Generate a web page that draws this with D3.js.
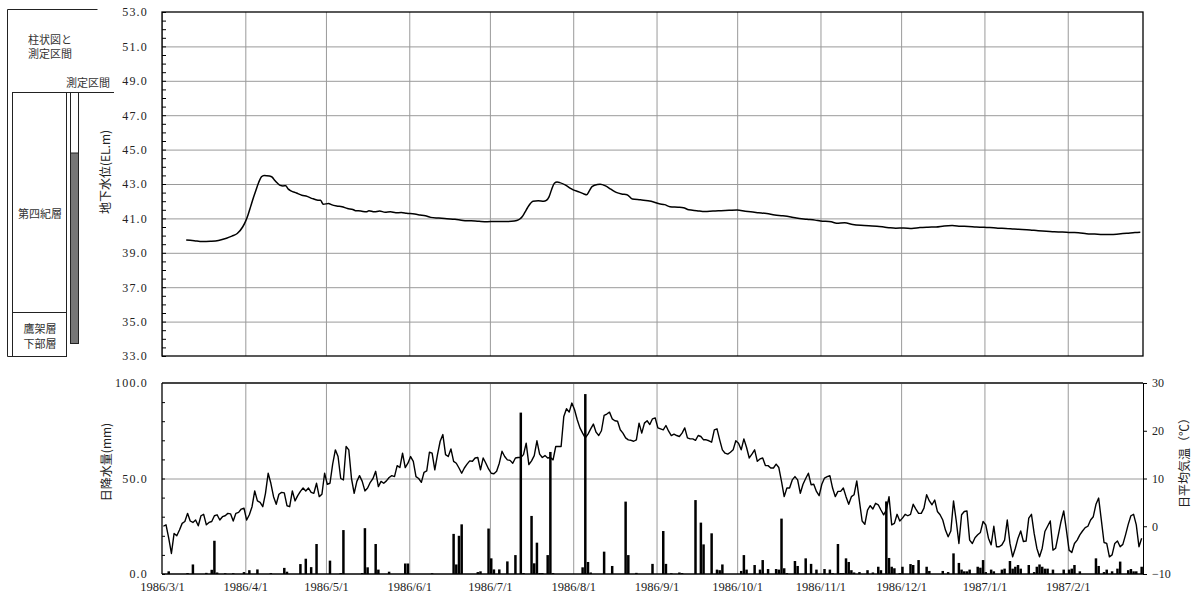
<!DOCTYPE html>
<html><head><meta charset="utf-8">
<script src="https://cdn.jsdelivr.net/npm/d3@7"></script>
<style>body{margin:0;background:#fff}svg{display:block}</style>
</head><body><svg id="c" width="1195" height="598"></svg>
<script>
// ---------- DATA ----------
const startDate = "1986-03-01";
const endDate = "1987-03-01";
const monthTicks = ["1986-03-01","1986-04-01","1986-05-01","1986-06-01","1986-07-01","1986-08-01","1986-09-01","1986-10-01","1986-11-01","1986-12-01","1987-01-01","1987-02-01"];
const levelTicks = [33,35,37,39,41,43,45,47,49,51,53];
const rainTicks = [0,50,100];
const tempTicks = [-10,0,10,20,30];

// groundwater level (EL.m): day offset from 1986/3/1 and level
const gwDay = [9,12,15,18,21,24,26,28,30,31,32,33,34,35,36,37,38,40,41,42,43,44,45,46,47,48,50,52,54,56,58,59,60,62,63,65,67,69,71,72,74,76,77,79,81,83,85,87,89,91,94,96,98,100,103,106,109,112,115,118,121,124,127,130,132,133,134,135,136,137,138,140,142,143,144,145,146,147,148,150,152,153,155,157,158,159,160,162,163,165,167,169,171,173,175,178,182,185,187,189,192,194,196,199,202,205,208,211,214,217,219,222,225,228,231,234,236,240,243,245,249,251,254,257,260,263,266,269,271,273,276,279,282,285,288,291,294,297,300,303,306,308,311,314,317,320,323,326,329,332,335,338,341,344,347,350,353,356,359,362,364];
const gwLevel = [39.75,39.7,39.65,39.67,39.72,39.85,39.97,40.12,40.5,40.8,41.2,41.7,42.2,42.66,43.1,43.42,43.5,43.47,43.4,43.2,43.04,42.92,42.89,42.9,42.7,42.6,42.48,42.35,42.28,42.15,42.06,42.05,41.82,41.87,41.8,41.72,41.68,41.57,41.52,41.45,41.43,41.38,41.45,41.38,41.43,41.36,41.38,41.33,41.34,41.3,41.25,41.2,41.15,41.06,41.02,40.98,40.95,40.88,40.86,40.83,40.81,40.82,40.82,40.83,40.88,40.95,41.1,41.35,41.62,41.85,42.0,42.02,42.0,42.05,42.25,42.7,43.04,43.11,43.08,42.95,42.75,42.66,42.55,42.42,42.38,42.6,42.85,42.97,42.98,42.89,42.7,42.51,42.42,42.38,42.13,42.08,42.0,41.85,41.8,41.68,41.65,41.62,41.5,41.45,41.4,41.43,41.45,41.47,41.49,41.42,41.38,41.33,41.28,41.2,41.15,41.08,41.02,40.95,40.9,40.85,40.8,40.72,40.74,40.65,40.6,40.57,40.55,40.49,40.45,40.43,40.44,40.42,40.47,40.49,40.5,40.56,40.58,40.55,40.53,40.5,40.48,40.47,40.43,40.42,40.38,40.36,40.33,40.28,40.26,40.22,40.21,40.18,40.17,40.11,40.09,40.06,40.06,40.09,40.13,40.18,40.2];

// daily mean air temperature (°C), one value per day from 1986/3/1
const tempC = [
0,0.3,-2.5,-5.7,-1.5,-2,-0.8,0.6,1,2.7,1.1,0.8,1.3,0.1,2.2,2.5,0.3,0.8,1,2.2,
2.4,1.3,2,2.2,2.7,2.6,1.1,2.7,2.9,3.6,3.8,1.3,2.4,4.1,7.4,5.3,5,4.1,6.9,11.1,
9,6.2,4.6,6.7,7.1,7,4.3,4.1,7.4,5.3,6.4,7.3,8,7.4,8,7.1,6.9,9,6.2,6.7,11.1,8.8,
9,13,16,14.6,10,9.7,16.7,16,10,6.9,9.4,10.6,9.4,7.4,8,9.2,10,11.5,8.3,9.4,
9,9.5,10.2,10.6,10.4,12.7,12.3,15.3,12.3,13.2,14.6,13.6,10.4,10,9.2,11.3,11.6,15.5,15.3,11.8,
15,17.8,19.2,15,14.6,16.2,13.6,13.2,12.2,11.1,12.2,13,13.7,13.6,14.3,14.4,11.8,14.3,13.2,12,
11.1,11,11.5,13.2,15.7,14.6,13.9,13.8,13.2,14.3,14.4,14.4,15,17.4,12.9,13.7,14.8,17.9,15.1,14.4,
14.8,14.3,14.4,13.9,16.7,16.7,16.7,23,24.6,23.9,25.8,24.4,22.3,20.6,19.5,18.5,19.3,20.4,21.4,19.7,
19,20,23.2,23.5,23.9,22.5,22.1,22,20.2,19.5,18.5,18.1,18,17.8,18.1,21.6,19.5,21.6,22.1,21.3,22.5,22.7,
20.6,20.4,20.2,21.1,19.9,19,19.3,19,18.8,19.5,20.6,18.5,18.3,18.3,18,19,18.8,18.1,18.1,17.9,
17.6,20.2,20.4,18.1,16,15.3,15.1,15.5,16,17.9,17.4,16,18.3,16.5,14.3,15.1,16,13.6,14.1,14.3,
12.7,12.7,12.2,12.2,13,12.3,9.4,6.2,8,8,9.7,10.4,9.7,6.9,8.8,10,11.1,8.7,8.8,7.3,6.4,
8.8,10.1,10.4,10.6,8,6.2,7.3,7.3,8,6.2,4.6,6.2,6.6,9.5,5.2,1.1,0.4,3.4,4.3,3.6,
4.8,4.5,3.4,2.4,3.4,6.2,0.3,0.6,2.5,1.1,1.7,2.5,2.2,2.5,4.6,3.6,2.7,2.7,3.8,6.6,
5.3,4.5,5.5,3.1,2.4,1.3,-0.8,-2.2,-1,5.3,1.2,-3.6,2.4,3.1,3.2,-2.9,-3.6,-2.4,-1.8,-1.3,1,
0.3,-2.5,-3.9,0,-4.3,-4.3,-3.9,-2.9,1.3,-3.6,-6.4,-4.6,-2.5,-1,-3.2,-3.1,1.7,2.5,-1.5,-4.6,
-6.4,-4.6,-1.1,0,1.1,-5,-4.6,-1.8,1,3.2,-0.8,-5,-5.5,-3.6,-2.9,-1.8,-1,-0.3,0,1.3,
2,4.6,5.9,1.3,-3.4,-3.6,-6.4,-6,-3.6,-3.1,-4.3,-3.8,-1.8,0.4,2.2,2.5,0.3,-4.3,-2.5];

// daily precipitation (mm): day offset and amount
const rainDay = [2,9,11,16,18,19,20,23,26,30,32,35,40,45,46,51,53,55,57,62,66,67,74,75,76,79,80,84,90,91,100,108,109,110,111,117,118,121,122,123,125,128,131,133,134,137,138,139,140,141,143,144,145,156,157,158,159,164,167,172,173,176,182,186,187,189,192,193,198,200,201,204,206,207,208,215,216,217,220,222,223,225,228,229,230,231,232,235,236,239,241,243,246,248,249,251,252,253,254,255,256,257,259,262,264,266,267,269,270,271,272,274,275,278,279,281,284,285,290,292,294,296,297,298,299,300,303,304,305,306,308,309,312,313,315,316,317,318,319,322,324,325,326,327,328,329,331,335,337,338,339,341,347,348,350,351,353,355,356,359,360,361,362,364];
const rainMM = [1.4,0.5,5,0.6,2.2,17.4,0.8,0.4,0.4,1,2,2.4,0.5,3.2,1.2,5.2,8,3.6,15.7,7,0.5,23,0.5,24,3.5,15.7,2.3,1.2,5.5,5.5,0.4,21,5,20,26,1,1.4,23.8,8.2,2.4,2.4,6.6,9.9,84.5,0.5,30.4,5.6,16.4,0.5,0.5,9.9,63.9,0.5,3.5,94.2,6.3,0.8,11.7,4.2,37.9,9.9,0.6,5.3,22.5,5.3,0.4,0.8,0.5,38.7,26.9,15.5,21.3,2.3,2,5,1.6,9.9,2.3,4.7,2.3,7.3,2.6,2.6,2.3,29,3,0.5,6.8,4.2,8.2,5.3,2.3,2.6,2.3,0.5,15.7,0.5,0.5,8.2,6.3,2,0.8,1,2,0.8,3.8,2,38,8.4,3.8,3,0.5,3.8,5.2,4.7,7.3,3.8,1.6,1.6,1,10.8,5.8,2.3,1.4,1.4,2.3,3.8,3.3,7.3,1,2.3,1.4,2.3,2.8,6.8,2.8,3.8,4.7,2.8,4.7,1,3.8,5,3.8,2.8,2.8,2.3,2.3,2.3,2.8,4.7,1.4,8.2,4.2,1,2.3,1.4,2.8,6.5,2,2.6,1.4,1.4,3.8];

// ---------- DRAW ----------
const svg = d3.select("#c");
const parse = d3.timeParse("%Y-%m-%d");
const t0 = parse(startDate), t1 = parse(endDate);
const dayDate = d => d3.timeDay.offset(t0, d);
const months = monthTicks.map(parse);
const L = 162, R = 1143;
const TT = 12, TB = 356, BT = 383, BB = 574;
const serif = "'Liberation Serif','DejaVu Serif',serif";
const jp = "'Noto Sans CJK JP','Noto Sans',sans-serif";
const gridCol = "#9a9a9a";

const x = d3.scaleTime().domain([t0, t1]).range([L, R]);
const yLev = d3.scaleLinear().domain([33, 53]).range([TB, TT]);
const yRain = d3.scaleLinear().domain([0, 100]).range([BB, BT]);
const yTemp = d3.scaleLinear().domain([-10, 30]).range([BB, BT]);

function styleGrid(g){ g.select(".domain").remove(); g.selectAll("line").attr("stroke", gridCol).attr("stroke-width", 1); g.selectAll("text").remove(); }

// ---- top chart ----
svg.append("g").attr("transform", `translate(0,${TB})`)
  .call(d3.axisBottom(x).tickValues(months).tickSize(-(TB-TT)).tickFormat("")).call(styleGrid);
svg.append("g").attr("transform", `translate(${L},0)`)
  .call(d3.axisLeft(yLev).tickValues(levelTicks.slice(1,-1)).tickSize(-(R-L)).tickFormat("")).call(styleGrid);
// minor ticks
svg.append("g").attr("transform", `translate(${L},0)`)
  .call(d3.axisLeft(yLev).tickValues(d3.range(33, 53.01, 0.5)).tickSize(-4).tickFormat(""))
  .call(g => { g.select(".domain").remove(); g.selectAll("line").attr("stroke","#000"); });
// labels
svg.append("g").attr("transform", `translate(${L},0)`)
  .call(d3.axisLeft(yLev).tickValues(levelTicks).tickSize(0).tickPadding(14).tickFormat(d3.format(".1f")))
  .call(g => { g.select(".domain").remove(); g.selectAll("text").attr("font-family", serif).attr("font-size", 12).attr("letter-spacing", "1.2px").attr("fill", "#222"); });
svg.append("rect").attr("x", L).attr("y", TT).attr("width", R-L).attr("height", TB-TT)
  .attr("fill", "none").attr("stroke", "#000").attr("stroke-width", 1.3);

const gwLine = d3.line().x((d,i) => x(dayDate(gwDay[i]))).y(d => yLev(d)).curve(d3.curveMonotoneX);
svg.append("path").datum(gwLevel).attr("d", gwLine).attr("fill", "none").attr("stroke", "#000").attr("stroke-width", 1.5);

svg.append("text").attr("transform", `translate(110,172) rotate(-90)`).attr("text-anchor", "middle")
  .attr("font-family", jp).attr("font-size", 12).attr("fill", "#222").text("地下水位(EL.m)");

// ---- bottom chart ----
svg.append("g").attr("transform", `translate(0,${BB})`)
  .call(d3.axisBottom(x).tickValues(months.slice(1)).tickSize(-(BB-BT)).tickFormat("")).call(styleGrid);
svg.append("g").attr("transform", `translate(${L},0)`)
  .call(d3.axisLeft(yRain).tickValues([50]).tickSize(-(R-L)).tickFormat("")).call(styleGrid);

// rain bars
const bw = x(dayDate(1)) - x(dayDate(0));
svg.append("g").selectAll("rect").data(rainMM).join("rect")
  .attr("x", (d,i) => x(dayDate(rainDay[i])) + 0.1)
  .attr("width", bw - 0.2)
  .attr("y", d => yRain(d)).attr("height", d => yRain(0) - yRain(d))
  .attr("fill", "#000");

// temperature line
const tLine = d3.line().x((d,i) => x(dayDate(i)) + bw/2).y(d => yTemp(d));
svg.append("path").datum(tempC).attr("d", tLine).attr("fill", "none").attr("stroke", "#000").attr("stroke-width", 1.4).attr("stroke-linejoin", "round");

// left axis
svg.append("g").attr("transform", `translate(${L},0)`)
  .call(d3.axisLeft(yRain).tickValues(d3.range(0, 100.1, 10)).tickSize(-3).tickFormat(""))
  .call(g => { g.select(".domain").remove(); g.selectAll("line").attr("stroke","#000"); });
svg.append("g").attr("transform", `translate(${L},0)`)
  .call(d3.axisLeft(yRain).tickValues(rainTicks).tickSize(0).tickPadding(14).tickFormat(d3.format(".1f")))
  .call(g => { g.select(".domain").remove(); g.selectAll("text").attr("font-family", serif).attr("font-size", 12).attr("letter-spacing", "1.2px").attr("fill", "#222"); });
// right axis
svg.append("g").attr("transform", `translate(${R},0)`)
  .call(d3.axisRight(yTemp).tickValues(tempTicks).tickSize(4).tickPadding(5))
  .call(g => { g.select(".domain").attr("stroke","#000"); g.selectAll("line").attr("stroke","#000");
    g.selectAll("text").attr("font-family", serif).attr("font-size", 12).attr("fill", "#222"); });
// bottom axis
svg.append("g").attr("transform", `translate(0,${BB})`)
  .call(d3.axisBottom(x).tickValues(months).tickSize(0).tickPadding(8).tickFormat(d3.timeFormat("%Y/%-m/%-d")))
  .call(g => { g.select(".domain").remove();
    g.selectAll("text").attr("font-family", serif).attr("font-size", 12.5).attr("fill", "#222"); });

svg.append("line").attr("x1", L).attr("x2", R).attr("y1", BT).attr("y2", BT).attr("stroke", "#444").attr("stroke-width", 2);
svg.append("line").attr("x1", L).attr("x2", L).attr("y1", BT).attr("y2", BB).attr("stroke", "#000").attr("stroke-width", 1.3);
svg.append("line").attr("x1", L).attr("x2", R).attr("y1", BB).attr("y2", BB).attr("stroke", "#000").attr("stroke-width", 1.3);

svg.append("text").attr("transform", `translate(111,462) rotate(-90)`).attr("text-anchor", "middle")
  .attr("font-family", jp).attr("font-size", 12).attr("fill", "#222").text("日降水量(mm)");
svg.append("text").attr("transform", `translate(1189,460) rotate(-90)`).attr("text-anchor", "middle")
  .attr("font-family", jp).attr("font-size", 12).attr("fill", "#222").text("日平均気温（℃）");

// ---- left boring log panel ----
const p = svg.append("g").attr("stroke", "#222").attr("stroke-width", 1).attr("fill", "none");
p.append("path").attr("d", "M97.5,9.5 H7.5 V356.5 H66.5");
p.append("line").attr("x1", 12.5).attr("x2", 114).attr("y1", 92.5).attr("y2", 92.5);
p.append("rect").attr("x", 12.5).attr("y", 92.5).attr("width", 54).attr("height", 264);
p.append("line").attr("x1", 12.5).attr("x2", 66.5).attr("y1", 312.5).attr("y2", 312.5);
p.append("rect").attr("x", 70.5).attr("y", 92.5).attr("width", 8).attr("height", 251).attr("fill", "#fff");
p.append("rect").attr("x", 70.5).attr("y", 153).attr("width", 8).attr("height", 190.5).attr("fill", "#777");
const lt = [["柱状図と",50,44],["測定区間",50,58],["測定区間",88,87],["第四紀層",40,218],["鷹架層",40,333],["下部層",40,348]];
svg.append("g").selectAll("text").data(lt).join("text")
  .attr("x", d => d[1]).attr("y", d => d[2]).attr("text-anchor", "middle")
  .attr("font-family", jp).attr("font-size", 11).attr("fill", "#333").text(d => d[0]);
</script></body></html>
